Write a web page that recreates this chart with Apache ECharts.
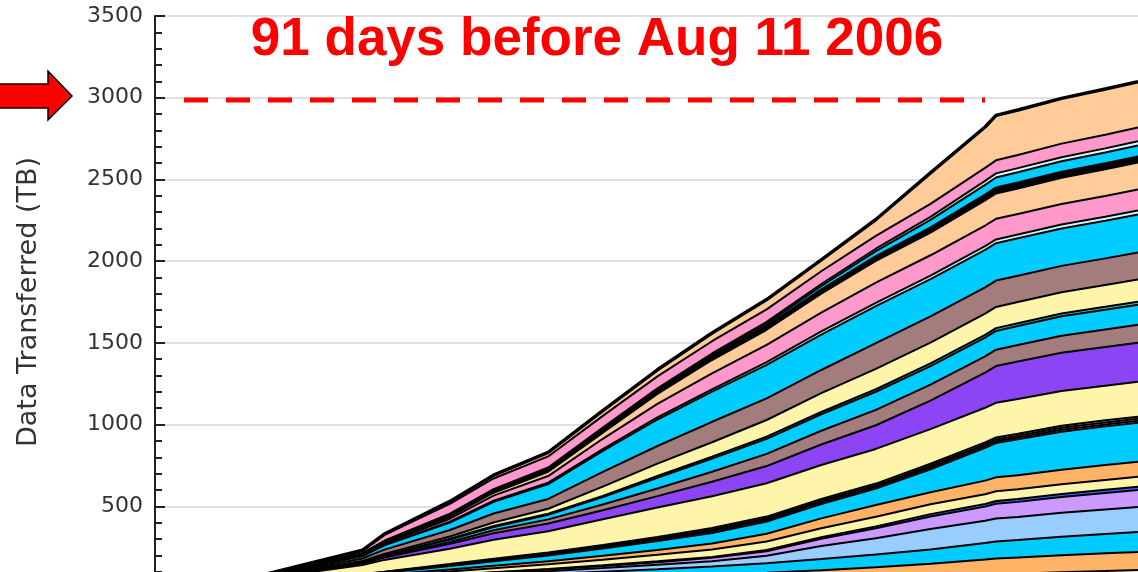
<!DOCTYPE html>
<html>
<head>
<meta charset="utf-8">
<script src="https://cdn.jsdelivr.net/npm/echarts@6/dist/echarts.min.js"></script>
<style>
  html, body { margin: 0; padding: 0; background: #fff; }
  #main-chart-1 { width: 1138px; height: 572px; }
</style>
</head>
<body>
<div id="main-chart-1"></div>
<script>
// Örnek günleri (x ekseni, kümülatif)
const sampleDates = ['2006-05-12', '2006-05-22', '2006-05-31', '2006-06-02', '2006-06-08', '2006-06-12', '2006-06-17',
                     '2006-06-22', '2006-06-27', '2006-07-02', '2006-07-07', '2006-07-12', '2006-07-17', '2006-07-22',
                     '2006-07-27', '2006-07-28', '2006-07-30', '2006-08-03', '2006-08-07', '2006-08-10'];

const yTicks = [0, 500, 1000, 1500, 2000, 2500, 3000, 3500];

// Katman renkleri (alttan üste)
const layerColors = ['#FFF5AA', '#FFB366', '#00CCFF', '#99CCFF', '#CC99FF', '#3366FF', '#FFF5AA', '#FFB366', '#00CCFF',
                     '#33CCCC', '#FFCC99', '#FF99CC', '#FFF5AA', '#8C44F4', '#A37D7D', '#00CCFF', '#33CCCC', '#FFF5AA',
                     '#A37D7D', '#00CCFF', '#CCFFFF', '#FF99CC', '#FFCC99', '#000000', '#00CCFF', '#CCFFFF', '#FF99CC', '#FFCC99'];

// Katman değerleri (TB), alttan üste
const L01 = [3, 10, 20, 22, 25, 28, 31, 34, 37, 41, 46, 52, 60, 70, 82, 85, 88, 96, 104, 110];
const L02 = [0, 8, 14, 16, 20, 24, 28, 32, 36, 41, 48, 57, 67, 78, 92, 95, 98, 104, 108, 111];
const L03 = [0, 6, 12, 14, 18, 22, 27, 34, 42, 50, 58, 68, 78, 88, 102, 105, 107, 113, 118, 122];
const L04 = [0, 2, 5, 6, 10, 13, 17, 22, 27, 32, 45, 80, 100, 125, 136, 140, 142, 147, 151, 153];
const L05 = [0, 1, 2, 3, 6, 8, 10, 13, 16, 21, 28, 44, 61, 77, 86, 90, 92, 97, 101, 104];
const L06 = [0, 0, 1, 1, 2, 2, 3, 4, 5, 5, 7, 9, 11, 14, 16, 17, 17, 18, 19, 19];
const L07 = [0, 4, 10, 12, 20, 24, 29, 34, 40, 46, 53, 56, 59, 60, 60, 60, 60, 60, 60, 61];
const L08 = [0, 2, 5, 7, 12, 15, 19, 24, 30, 36, 47, 60, 72, 74, 83, 85, 86, 89, 91, 92];
const L09 = [0, 3, 10, 13, 22, 28, 35, 45, 55, 65, 75, 88, 100, 140, 200, 210, 220, 232, 237, 239];
const L10 = [0, 1, 2, 2, 4, 5, 6, 7, 8, 10, 10, 10, 10, 11, 11, 11, 11, 12, 12, 12];
const L11 = [0, 1, 2, 2, 4, 5, 6, 7, 8, 10, 10, 10, 10, 11, 11, 11, 11, 12, 12, 12];
const L12 = [0, 1, 2, 2, 4, 5, 6, 7, 8, 10, 10, 11, 11, 12, 12, 12, 12, 13, 13, 13];
const L13 = [0, 20, 55, 72, 93, 116, 130, 158, 180, 195, 204, 208, 212, 212, 212, 212, 212, 212, 212, 214];
const L14 = [0, 2, 10, 14, 30, 40, 48, 55, 70, 88, 105, 125, 145, 175, 215, 225, 230, 235, 237, 239];
const L15 = [0, 1, 4, 6, 12, 18, 25, 35, 47, 61, 75, 84, 94, 97, 99, 100, 101, 104, 107, 110];
const L16 = [0, 1, 4, 6, 14, 20, 28, 45, 66, 81, 92, 101, 111, 114, 115, 115, 116, 119, 121, 123];
const L17 = [0, 1, 2, 3, 5, 6, 7, 8, 10, 12, 13, 14, 15, 16, 17, 17, 17, 17, 18, 18];
const L18 = [0, 2, 6, 8, 14, 22, 30, 56, 76, 88, 102, 115, 125, 128, 130, 130, 130, 130, 133, 135];
const L19 = [0, 3, 15, 26, 40, 55, 60, 90, 108, 125, 132, 142, 157, 160, 161, 161, 161, 161, 163, 166];
const L20 = [0, 3, 14, 26, 45, 71, 91, 129, 162, 184, 205, 217, 227, 228, 229, 229, 229, 229, 230, 232];
const L21 = [0, 1, 2, 3, 6, 7, 9, 11, 13, 15, 17, 19, 20, 21, 23, 23, 23, 24, 25, 25];
const L22 = [0, 1, 5, 8, 18, 31, 40, 63, 83, 97, 106, 115, 124, 125, 126, 126, 126, 126, 127, 129];
const L23 = [0, 1, 4, 6, 12, 18, 26, 38, 60, 82, 92, 116, 132, 138, 153, 155, 156, 160, 163, 165];
const L24 = [0, 1, 3, 5, 8, 10, 12, 15, 18, 21, 24, 27, 30, 33, 36, 37, 37, 37, 37, 37];
const L25 = [0, 1, 2, 3, 6, 7, 8, 9, 10, 11, 14, 20, 30, 45, 60, 61, 62, 64, 66, 67];
const L26 = [0, 1, 2, 3, 5, 5, 6, 7, 7, 8, 10, 12, 15, 19, 24, 25, 25, 25, 25, 25];
const L27 = [0, 3, 15, 36, 60, 65, 68, 71, 73, 75, 77, 78, 79, 79, 80, 80, 81, 83, 84, 85];
const L28 = [0, 1, 3, 5, 15, 20, 25, 32, 40, 50, 60, 70, 100, 190, 250, 275, 275, 277, 279, 280];

const layerValues = [L01, L02, L03, L04, L05, L06, L07, L08, L09, L10, L11, L12, L13, L14,
                     L15, L16, L17, L18, L19, L20, L21, L22, L23, L24, L25, L26, L27, L28];

document.addEventListener("DOMContentLoaded", function() {
    const chart = echarts.init(document.getElementById('main-chart-1'));

    // Her katman için yığılmış alan serisi
    const series = layerValues.map((vals, i) => ({
        name: 'L' + (i + 1),
        type: 'line',
        stack: 'total',
        symbol: 'none',
        smooth: false,
        lineStyle: { color: '#000', width: i === layerValues.length - 1 ? 3.5 : 2 },
        areaStyle: { color: layerColors[i], opacity: 1 },
        data: sampleDates.map((d, k) => [d, vals[k]])
    }));

    chart.setOption({
        animation: false,
        backgroundColor: '#fff',
        grid: { left: 155, right: 0, top: 16, height: 572, containLabel: false, outerBoundsMode: 'none' },
        xAxis: {
            type: 'time',
            min: sampleDates[0],
            max: sampleDates[sampleDates.length - 1],
            show: false
        },
        yAxis: {
            type: 'value',
            min: yTicks[0],
            max: yTicks[yTicks.length - 1],
            interval: 500,
            name: 'Data Transferred (TB)',
            nameLocation: 'middle',
            nameGap: 113,
            nameTextStyle: { fontFamily: 'DejaVu Sans', fontSize: 27, color: '#333' },
            axisLine: { show: true, lineStyle: { color: '#222', width: 2 } },
            axisTick: { show: true, inside: true, length: 10, lineStyle: { color: '#222', width: 2 } },
            minorTick: { show: true, splitNumber: 5, length: 7, lineStyle: { color: '#222', width: 2 } },
            splitLine: { show: true, lineStyle: { color: '#e0e0e0', width: 2 } },
            axisLabel: { fontFamily: 'DejaVu Sans', fontSize: 22, color: '#333', margin: 12,
                         formatter: v => String(v) }
        },
        series: series,
        graphic: [
            {
                type: 'text',
                style: {
                    text: '91 days before Aug 11 2006',
                    font: 'bold 53px "Liberation Sans", Arial, sans-serif',
                    fill: '#ff0000',
                    x: 597, y: 40,
                    align: 'center', verticalAlign: 'middle'
                },
                z: 100
            },
            {
                type: 'line',
                shape: { x1: 184, y1: 100, x2: 985, y2: 100 },
                style: { stroke: '#ff0000', lineWidth: 5, lineDash: [24, 18] },
                z: 100
            },
            {
                type: 'polygon',
                shape: { points: [[-5, 84], [48, 84], [48, 71], [72, 96], [48, 120], [48, 108], [-5, 108]] },
                style: { fill: '#ff0000', stroke: '#000', lineWidth: 1.5 },
                z: 100
            }
        ]
    });

    window.addEventListener("resize", () => chart.resize());
});
</script>
</body>
</html>
